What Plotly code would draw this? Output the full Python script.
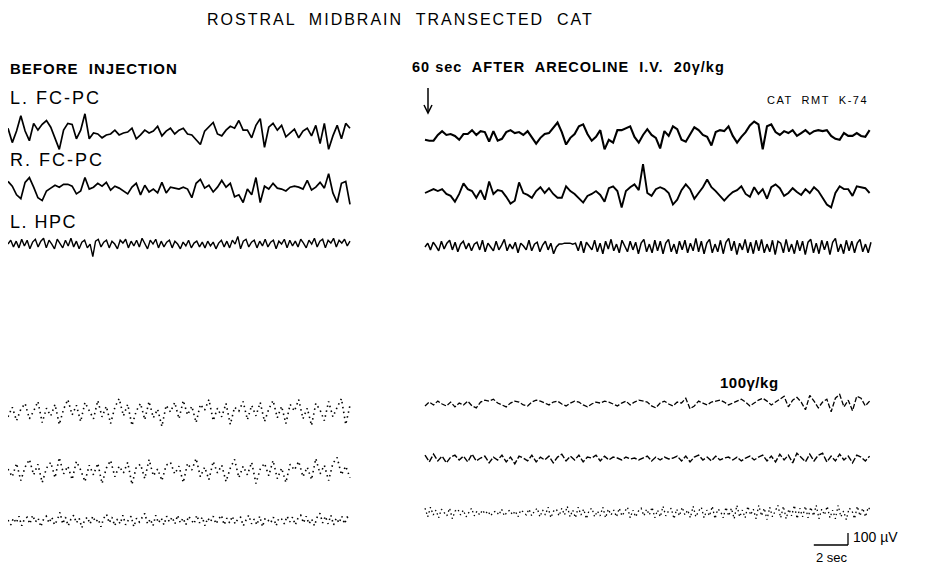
import plotly.graph_objects as go

W, H = 930, 566          # browser window
OFF = 8                  # default page margin of the html body
PX_PER_S = 17.1          # horizontal scale: 2 sec bar
PX_PER_UV = 0.12         # vertical scale: 100 uV bar = 12 px
DT_SLOW = 0.25           # s between samples, cortical leads
DT_FAST = 0.16           # s between samples, hippocampal leads

# ---------------- values (uV) ----------------
before_l_fcpc = [40,-80,16,144,16,-64,80,24,72,104,48,-48,-136,24,80,72,-48,24,160,-48,
                 0,-8,-40,-16,-8,24,-16,0,8,40,-48,-16,24,0,16,56,-24,16,40,-8,
                 24,40,-8,-16,-56,-96,16,56,88,-8,-24,24,56,40,104,24,24,-40,64,120,
                 -120,48,80,24,64,-32,0,32,-40,16,40,-24,64,-88,80,-136,-24,64,-48,80,40]
before_r_fcpc = [80,40,-32,-64,72,112,32,-56,-80,0,24,48,32,56,56,40,-24,0,112,16,
                 32,64,40,72,8,40,24,0,-24,32,64,-32,48,-8,16,-16,72,-16,32,24,
                 16,32,16,-56,64,96,24,48,-8,32,88,32,64,-48,-32,-96,16,-32,112,-96,
                 40,16,64,24,16,0,32,40,32,16,88,8,32,72,24,144,-16,-96,64,80,-112]
before_l_hpc = [8,40,-16,32,-24,48,-8,40,-32,24,48,-16,32,56,-24,40,8,-32,48,16,
                -24,40,-8,56,-16,32,-32,24,40,-24,8,-96,32,48,-16,24,40,-24,32,8,
                -32,40,16,48,-24,32,-8,40,-16,56,16,-32,40,8,48,-24,32,-16,24,40,
                -24,32,8,-32,24,-8,40,-24,16,32,-16,24,-24,32,-8,24,-32,16,40,-16,
                32,-24,40,8,72,-32,32,48,-16,24,40,-24,32,-8,48,-16,24,40,-32,32,
                8,48,-24,40,-8,32,-16,48,16,-24,40,8,56,-16,32,48,-24,40,16,56,
                -16,40,16,48,-8,32]

after20_l_fcpc = [-48,-56,-56,-8,24,-8,0,-16,-48,0,0,32,-8,24,16,-64,24,-56,-40,16,
                  32,8,16,-8,24,-24,-80,-32,0,8,56,96,16,-88,-32,0,64,80,0,-56,
                  -24,32,-128,-48,-72,32,32,48,64,-24,-72,-8,40,-8,-32,-120,24,-16,64,40,
                  -48,-64,0,56,32,-8,-24,-96,16,32,24,64,-16,-72,-24,16,72,104,80,-128,
                  64,80,16,-8,24,8,32,-16,8,32,0,24,32,24,32,-16,-40,-48,8,-16,
                  -16,8,-16,-24,32]
after20_r_fcpc = [0,16,32,16,32,-8,-24,-72,-8,80,32,16,-40,24,-56,96,-8,24,16,-32,
                  -88,-64,88,0,-16,-40,16,48,0,40,-8,-40,-40,56,16,-8,-40,-80,-24,-8,
                  16,-16,-72,40,56,16,-120,16,48,72,24,240,0,-24,32,48,32,0,-96,-56,
                  24,72,32,-48,0,48,112,48,16,-24,-64,-24,8,24,56,-8,-32,48,-8,32,
                  -48,48,72,40,-24,0,40,8,-16,32,0,48,16,-40,-96,-120,0,56,32,32,
                  -24,56,48,40,0]
after20_l_hpc = [0,32,-24,40,8,-32,48,-16,32,56,-24,40,-40,24,48,-16,32,-32,24,40,
                 -24,56,-40,32,0,-32,48,-24,16,64,-32,24,-16,40,-48,32,8,-24,56,-32,
                 24,40,-40,16,48,-24,32,-56,0,24,
                 24,32,32,32,24,32,
                 -32,48,-48,40,8,-24,56,-40,32,-56,48,-16,64,-32,24,-48,56,0,-40,48,-24,40,-56,32,
                 64,-40,24,-48,56,-32,48,-56,32,64,-40,24,-56,48,-24,56,-48,32,-32,72,
                 -40,48,-56,32,64,-48,24,-40,56,-56,40,72,-32,48,-64,32,-24,64,-48,40,
                 -56,56,-32,64,-48,24,-40,56,-64,48,32,-48,64,-40,24,-56,56,-32,48,-64,
                 40,64,-48,32,-56,56,-24,48,-64,40,72,-40,24,-56,56,-32,48,-48,32,64,-40,24,-48,40]

later20_l_fcpc = [-32,48,-64,32,80,-48,16,96,-80,40,-24,72,-96,32,112,-16,64,-72,88,24,
                  -48,104,-32,56,-88,48,120,-24,72,-104,16,80,-56,96,-40,32,-112,64,8,88,
                  -48,104,-16,56,-80,72,24,112,-64,40,-32,80,-96,48,16,96,-56,64,-24,88,
                  -72,32,104,-40,56,-88,72,16,112,-48,40,-104,80,24,-64,96,-32,48,120,-96,64]
later20_r_fcpc = [16,-48,64,-80,32,96,-32,56,-96,24,72,-56,112,-24,40,-72,80,8,-88,48,
                  -32,64,-104,24,88,-48,40,-16,72,-112,32,56,-64,96,-40,16,-80,48,72,-24,
                  40,-96,64,8,104,-48,32,-72,80,-16,48,-88,24,96,-56,40,-32,72,-104,16,
                  64,-40,88,-64,24,-96,56,8,80,-48,32,-72,104,-24,48,-80,64,112,-32,40,-56]
later20_l_hpc = [8,-32,24,-16,40,-40,16,32,-24,48,-8,24,-48,16,40,-16,32,-32,8,72,
                 -24,32,-40,16,48,-16,24,-56,8,32,-24,40,-8,16,-48,24,56,-16,32,-40,
                 16,-24,48,-32,8,40,-48,24,-8,32,64,-24,16,-40,48,-16,24,-32,40,-8,
                 32,-24,48,-16,24,-32,40,8,-24,48,-16,32,-40,24,-8,40,-24,16,48,-32,
                 24,-16,40,-24,16,32,-40,8,48,-24,16,-32,40,-48,24,8,-16,32,-40,24,
                 16,-24,40,-8,32,-32,24,48,-16,40,-24,16,-40,32,64,-16,40,-24,48,-32,
                 24,-16,40,-24,32,8]

after100_l_fcpc = [-16,16,-8,24,0,-16,16,-24,8,-8,24,-16,-32,16,32,24,40,8,-8,-24,
                   8,24,16,-8,-16,16,32,24,8,-8,16,24,0,-16,8,24,16,-8,-24,0,
                   16,8,24,16,0,-16,8,24,-8,16,32,24,16,-16,-32,8,24,0,-16,16,
                   8,48,-40,-16,24,8,-8,16,24,32,16,-8,8,24,40,16,-16,8,32,48,
                   24,-8,16,40,64,-24,32,56,16,-48,72,24,-32,16,40,-64,48,80,-24,32,
                   -56,64,48,-16,24]
after100_r_fcpc = [32,-24,40,-16,24,-32,16,32,-8,24,-24,40,-16,8,24,-32,16,-8,32,-24,
                   16,-40,24,8,-16,32,-24,16,-8,24,-32,16,40,-16,24,-8,32,-24,16,8,
                   32,-16,24,-8,16,8,-8,16,0,8,-8,8,24,-16,16,-8,16,0,8,24,
                   -16,24,-24,16,32,-8,16,-16,24,-8,8,16,-8,16,-16,8,24,-8,16,32,
                   -16,24,-24,40,-8,32,-32,48,16,-24,40,-16,32,48,-24,24,-16,40,-8,24,
                   -32,32,16,-16,24]
after100_l_hpc = [40,-32,48,-16,24,-40,32,8,-24,40,-48,16,32,-16,24,-32,8,40,-24,16,
                  -16,24,-8,16,-24,8,16,-16,32,-24,8,24,-16,16,-32,24,8,-16,32,-24,
                  16,40,-32,24,-16,48,-40,16,32,-24,40,-16,56,-32,24,-40,48,-16,32,-48,
                  24,40,-32,16,-24,48,-40,32,-16,24,-32,40,-24,16,48,-40,24,-32,16,40,
                  -24,32,-16,48,-40,24,-32,56,-24,16,40,-48,32,-24,48,-16,24,-40,56,-32,
                  16,48,-40,24,-24,56,-48,32,16,-40,48,-24,40,-48,64,-32,24,-40,56,-16,
                  32,-48,64,-24,40,-56,48,-32,24,64,-40,56,-48,32,-24,64,-48,40,-32,56,
                  -40,48,-24,64,-48,32,-16,56,-40,24,-48,64,-32,16,-56,40,24,-48,56,-24,40,-32,48,16]

# ---------------- placement (page pixels of the 930x566 window) ----------------
LEFT_X0, RIGHT_X0 = 8, 425
SOLID = dict(color="black", width=1.7)
DOTTY = dict(color="black", width=1.6, dash="1.5px,3.5px")
traces = [
    (before_l_fcpc, LEFT_X0, 133, DT_SLOW, SOLID),
    (before_r_fcpc, LEFT_X0, 191, DT_SLOW, SOLID),
    (before_l_hpc, LEFT_X0, 245, DT_FAST, dict(color="black", width=1.4)),
    (after20_l_fcpc, RIGHT_X0, 134, DT_SLOW, dict(color="black", width=2.1)),
    (after20_r_fcpc, RIGHT_X0, 193, DT_SLOW, dict(color="black", width=1.9)),
    (after20_l_hpc, RIGHT_X0, 247, DT_FAST, dict(color="black", width=1.5)),
    (later20_l_fcpc, LEFT_X0, 413, DT_SLOW, DOTTY),
    (later20_r_fcpc, LEFT_X0, 471, DT_SLOW, DOTTY),
    (later20_l_hpc, LEFT_X0, 521, DT_FAST, DOTTY),
    (after100_l_fcpc, RIGHT_X0, 404, DT_SLOW, dict(color="black", width=1.3, dash="5px,2px")),
    (after100_r_fcpc, RIGHT_X0, 459, DT_SLOW, dict(color="black", width=1.4, dash="6px,2px")),
    (after100_l_hpc, RIGHT_X0, 513, DT_FAST, dict(color="black", width=1.3, dash="1.5px,3px")),
]

fig = go.Figure()
for vals, x0px, basepx, dt, line in traces:
    t0 = x0px / PX_PER_S
    base = -basepx / PX_PER_UV
    fig.add_trace(go.Scatter(
        x=[t0 + i * dt for i in range(len(vals))],
        y=[base + v for v in vals],
        mode="lines", line=line, hoverinfo="skip", showlegend=False))

FW, FH = W - OFF, H - OFF   # figure size inside the page margin

def px(x, y):
    return (x - OFF) / FW, 1 - (y - OFF) / FH

FONT = "Liberation Sans"
def label(text, x, y, size, anchor="left", spacing=0, bold=False):
    xx, yy = px(x, y)
    if spacing:
        text = f'<span style="letter-spacing:{spacing}px">{text}</span>'
    fig.add_annotation(x=xx, y=yy, xref="paper", yref="paper", text=text,
                       showarrow=False, xanchor=anchor, yanchor="middle",
                       font=dict(family=FONT, size=size, color="black",
                                 weight="bold" if bold else "normal"))

label("ROSTRAL  MIDBRAIN  TRANSECTED  CAT", 205, 20, 16, spacing=2)
label("BEFORE  INJECTION", 8, 68, 15, spacing=1, bold=True)
label("60 sec  AFTER  ARECOLINE  I.V.  20γ/kg", 410, 67, 14.5, spacing=1, bold=True)
label("L. FC-PC", 8, 98, 18, spacing=2)
label("R. FC-PC", 8, 160, 18, spacing=2)
label("L. HPC", 8, 222, 18, spacing=1.5)
label("CAT  RMT  K-74", 765, 100, 11, spacing=1.5)
label("100γ/kg", 718, 382, 15, spacing=0.5, bold=True)
label("100 µV", 851, 537, 14)
label("2 sec", 832, 557, 13, anchor="center")

# arrow under "60 sec"
ax0, ay0 = px(428, 88)
ax1, ay1 = px(428, 113)
fig.add_shape(type="line", xref="paper", yref="paper", x0=ax0, y0=ay0, x1=ax1, y1=ay1,
              line=dict(color="black", width=1.5))
hl = px(424, 105); hr = px(432, 105)
fig.add_shape(type="path", xref="paper", yref="paper",
              path=f"M {hl[0]},{hl[1]} L {ax1},{ay1} L {hr[0]},{hr[1]}",
              line=dict(color="black", width=1.5))

# calibration bars: 2 sec and 100 uV
cx, cy = 848 / PX_PER_S, -545 / PX_PER_UV
fig.add_shape(type="line", xref="x", yref="y", x0=cx - 2, y0=cy, x1=cx, y1=cy,
              line=dict(color="black", width=1.3))
fig.add_shape(type="line", xref="x", yref="y", x0=cx, y0=cy, x1=cx, y1=cy + 100,
              line=dict(color="black", width=1.3))

fig.update_layout(
    width=FW, height=FH, autosize=False,
    margin=dict(l=0, r=0, t=0, b=0),
    paper_bgcolor="white", plot_bgcolor="white",
    xaxis=dict(range=[OFF / PX_PER_S, W / PX_PER_S], visible=False, fixedrange=True),
    yaxis=dict(range=[-H / PX_PER_UV, -OFF / PX_PER_UV], visible=False, fixedrange=True),
)
fig.write_html("out.html")
